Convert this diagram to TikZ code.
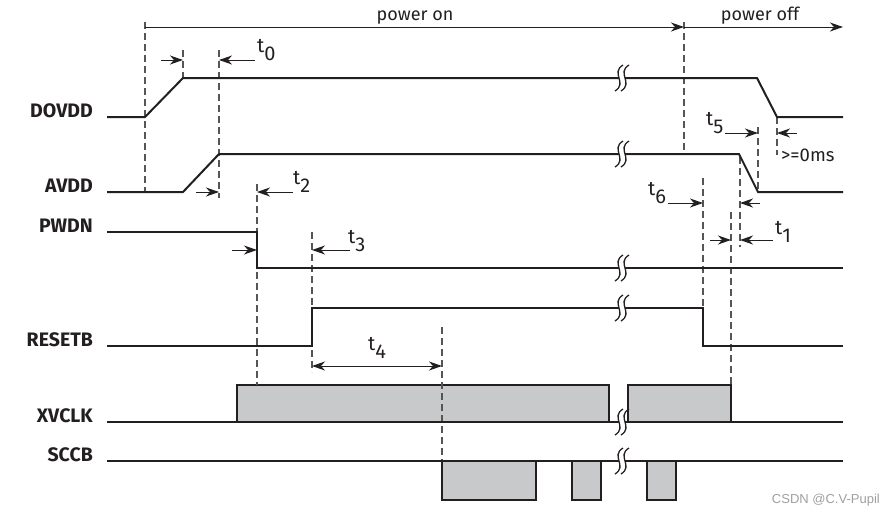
\documentclass[tikz,border=0pt]{standalone}
\usepackage{fontspec}
\setmainfont{Fira Sans}
\newfontfamily\wmfont{Liberation Sans}
\usetikzlibrary{arrows.meta}
\definecolor{sig}{HTML}{231F20}
\definecolor{dsh}{HTML}{555555}
\definecolor{boxfill}{HTML}{C8C9CB}
\definecolor{wm}{HTML}{A0A0A0}
\tikzset{
  sigline/.style={sig, line width=2pt, line join=miter},
  dline/.style={dsh, line width=1.1pt, dash pattern=on 7pt off 4pt},
  arr/.style={sig, line width=1pt, -{Stealth[length=13pt,width=9pt,inset=4pt]}},
  darr/.style={sig, line width=1pt, {Stealth[length=13pt,width=9pt,inset=4pt]}-{Stealth[length=13pt,width=9pt,inset=4pt]}},
  sigbox/.style={sigline, fill=boxfill},
  lbl/.style={font=\fontsize{19.5}{22}\selectfont\bfseries, anchor=base east, text=sig, inner sep=0pt},
  tlbl/.style={font=\fontsize{20}{22}\selectfont, anchor=base west, text=sig, inner sep=0pt},
  txt/.style={font=\fontsize{18}{20}\selectfont, text=sig, inner sep=0pt},
  squig/.style={sig, line width=1.3pt}
}
\begin{document}
\begin{tikzpicture}[x=1pt, y=-1pt]
\useasboundingbox (0,0) rectangle (895,515);

% signal labels
\node[lbl] (ldovdd) at (93,117) {DOVDD};
\node[lbl] (lavdd) at (93,192) {AVDD};
\node[lbl] (lpwdn) at (93,232) {PWDN};
\node[lbl] (lresetb) at (93,346) {RESETB};
\node[lbl] (lxvclk) at (93,422) {XVCLK};
\node[lbl] (lsccb) at (93,461) {SCCB};

% boxes
\draw[sigbox] (237,422) rectangle (609,385);
\draw[sigbox] (628,422) rectangle (731,385);
\draw[sigbox] (442,461) rectangle (536,500);
\draw[sigbox] (572,461) rectangle (601,500);
\draw[sigbox] (647,461) rectangle (676,500);

% dashed guide lines
\draw[dline] (145,22) -- (145,192);
\draw[dline] (183,50) -- (183,78);
\draw[dline] (219,50) -- (219,198);
\draw[dline] (257,184) -- (257,385);
\draw[dline] (312,232) -- (312,308);
\draw[dline] (312,350) -- (312,372);
\draw[dline] (442,327) -- (442,461);
\draw[dline] (684,22) -- (684,154);
\draw[dline] (703,178) -- (703,308);
\draw[dline] (731,212) -- (731,385);
\draw[dline] (740,157) -- (740,247);
\draw[dline] (758,127) -- (758,192);
\draw[dline] (777,117) -- (777,155);

% signals
\draw[sigline] (107,117) -- (145,117) -- (183,78) -- (757,78) -- (777,117) -- (843,117);
\draw[sigline] (107,192) -- (183,192) -- (219,154) -- (739,154) -- (758,192) -- (843,192);
\draw[sigline] (107,232) -- (257,232) -- (257,268) -- (843,268);
\draw[sigline] (107,346) -- (312,346) -- (312,308) -- (703,308) -- (703,346) -- (843,346);
\draw[sigline] (107,422) -- (843,422);
\draw[sigline] (107,461) -- (843,461);

% break marks
\foreach \y in {78,154,268,308,422,461}{
  \fill[white] (619,\y-3) rectangle (625,\y+3);
  \draw[squig] (619+4,\y-13) .. controls (619-9,\y-5) and (619+9,\y+5) .. (619-4,\y+13);
  \draw[squig] (625+4,\y-13) .. controls (625-9,\y-5) and (625+9,\y+5) .. (625-4,\y+13);
}

% power on / off
\node[txt, anchor=base] (pon) at (415,20) {power on};
\node[txt, anchor=base] (poff) at (760,20) {power off};
\coordinate (pstart) at (145,27);
\coordinate (pmid) at (684,27);
\coordinate (pend) at (843,27);
\draw[arr] (pstart) -- (pmid);
\draw[arr] (pmid) -- (pend);

% timing arrows
\draw[arr] (161,60) -- (183,60);
\draw[arr] (255,60) -- (219,60);
\draw[arr] (196,192) -- (219,192);
\draw[arr] (293,192) -- (257,192);
\draw[arr] (232,250) -- (257,250);
\draw[arr] (350,250) -- (312,250);
\draw[darr] (312,366) -- (442,366);
\draw[arr] (725,133) -- (758,133);
\draw[arr] (797,133) -- (777,133);
\draw[arr] (668,203) -- (703,203);
\draw[arr] (760,203) -- (740,203);
\draw[arr] (710,240) -- (731,240);
\draw[arr] (773,240) -- (740,240);

% timing labels
\node[tlbl] (t0) at (257,52) {t\raisebox{-8pt}{0}};
\node[tlbl] (t2) at (293,184) {t\raisebox{-8pt}{2}};
\node[tlbl] (t3) at (348,243) {t\raisebox{-8pt}{3}};
\node[tlbl] (t4) at (368,350) {t\raisebox{-8pt}{4}};
\node[tlbl] (t5) at (706,125) {t\raisebox{-8pt}{5}};
\node[tlbl] (t6) at (648,195) {t\raisebox{-8pt}{6}};
\node[tlbl] (t1) at (775,234) {t\raisebox{-8pt}{1}};
\node[tlbl, font=\fontsize{18.5}{20}\selectfont] (zero) at (781,161) {>=0ms};

% watermark
\node[anchor=base east, inner sep=0pt, text=wm, font=\wmfont\fontsize{13}{15}\selectfont] (wmk) at (880,503) {CSDN @C.V-Pupil};
\end{tikzpicture}
\end{document}
